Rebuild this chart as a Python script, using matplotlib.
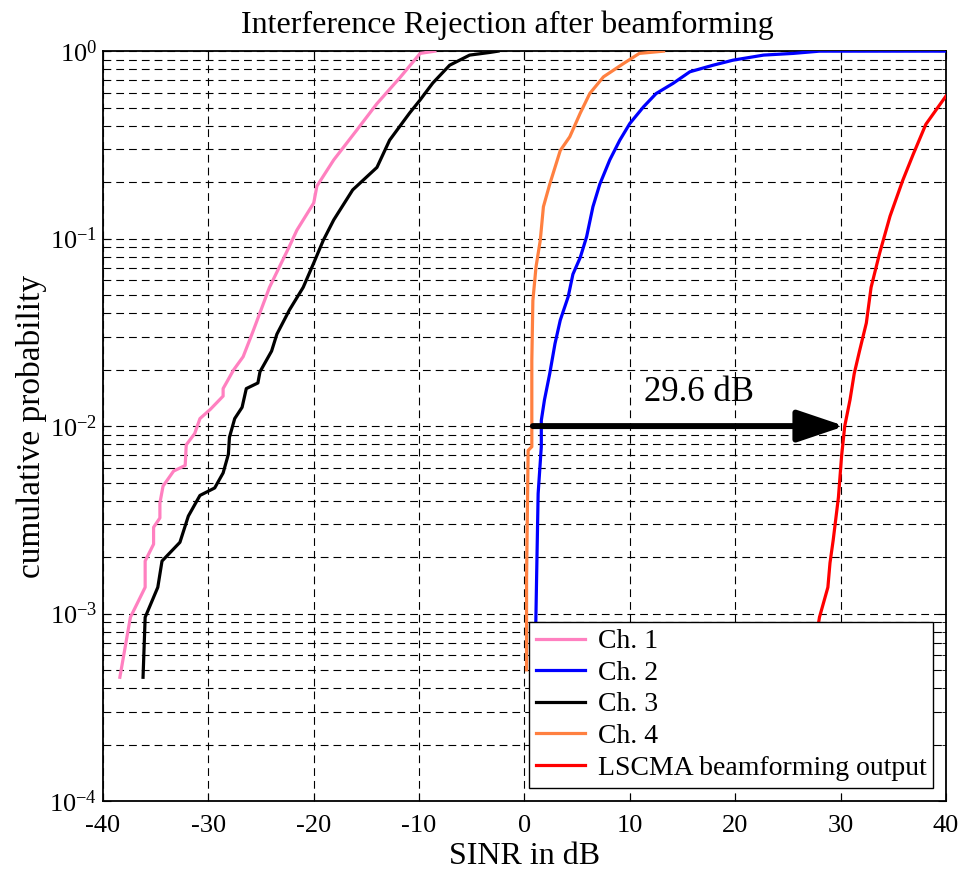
import numpy as np
import matplotlib
matplotlib.use("Agg")
import matplotlib.pyplot as plt

plt.rcParams["font.family"] = ["Liberation Serif", "DejaVu Serif"]
plt.rcParams["mathtext.fontset"] = "custom"
plt.rcParams["mathtext.rm"] = "Liberation Serif"
plt.rcParams["mathtext.it"] = "Liberation Serif:italic"
plt.rcParams["axes.unicode_minus"] = False

# empirical SINR CDFs: x in dB, log10 of cumulative probability
ch1_x = [-38.4, -37.4, -36.0, -36.0, -35.2, -35.2, -34.6, -34.6, -34.3, -33.3, -32.2, -32.1,
         -31.3, -30.8, -29.8, -28.6, -28.6, -27.6, -26.7, -25.8, -24.2, -22.3, -21.6, -20.0,
         -19.7, -18.1, -15.9, -14.0, -11.8, -9.9, -8.5]
ch1_logp = [-3.34, -3.02, -2.86, -2.72, -2.63, -2.54, -2.49, -2.41, -2.32, -2.24, -2.21, -2.10,
            -2.04, -1.96, -1.91, -1.84, -1.80, -1.70, -1.63, -1.50, -1.26, -1.04, -0.955, -0.81,
            -0.72, -0.58, -0.42, -0.28, -0.14, -0.012, 0.0]

ch2_x = [1.0, 1.15, 1.3, 1.6, 1.6, 1.9, 2.4, 2.9, 3.4, 4.15, 4.6, 5.3, 5.9, 6.5, 7.15, 8.1,
         9.05, 10.0, 11.3, 12.5, 14.1, 15.7, 17.9, 19.8, 22.7, 25.5, 28.0, 40.0]
ch2_logp = [-3.3, -2.82, -2.36, -2.11, -1.97, -1.86, -1.72, -1.56, -1.435, -1.31, -1.19, -1.10,
            -0.99, -0.83, -0.71, -0.58, -0.475, -0.386, -0.297, -0.226, -0.172, -0.110, -0.075,
            -0.048, -0.021, -0.012, 0.0, 0.0]

ch3_x = [-36.2, -36.0, -34.8, -34.4, -32.7, -31.9, -30.8, -29.4, -28.6, -28.1, -28.0, -27.5,
         -26.8, -26.4, -25.3, -25.1, -24.0, -23.5, -22.3, -21.0, -20.0, -19.1, -18.1, -16.3,
         -14.0, -12.8, -10.9, -9.9, -8.7, -7.1, -5.2, -3.3, -2.5]
ch3_logp = [-3.34, -3.02, -2.86, -2.72, -2.62, -2.48, -2.37, -2.33, -2.25, -2.15, -2.06, -1.96,
            -1.90, -1.80, -1.77, -1.71, -1.60, -1.51, -1.38, -1.26, -1.13, -1.01, -0.90, -0.74,
            -0.62, -0.475, -0.33, -0.26, -0.17, -0.075, -0.021, -0.007, 0.0]

ch4_x = [0.2, 0.2, 0.35, 0.7, 0.7, 0.8, 1.1, 1.5, 1.8, 2.4, 3.4, 4.3, 5.3, 6.2, 7.5, 9.4,
         10.9, 13.2]
ch4_logp = [-3.3, -2.82, -2.13, -2.11, -1.65, -1.33, -1.15, -1.01, -0.83, -0.71, -0.53, -0.457,
            -0.33, -0.226, -0.137, -0.066, -0.012, 0.0]

lscma_x = [27.2, 28.0, 28.8, 29.0, 29.3, 29.8, 30.1, 30.4, 30.9, 31.3, 31.8, 32.45, 32.9, 33.7,
           34.7, 35.9, 36.9, 38.1, 40.0]
lscma_logp = [-3.3, -3.02, -2.86, -2.73, -2.61, -2.38, -2.16, -2.0, -1.86, -1.72, -1.60, -1.45,
              -1.26, -1.08, -0.88, -0.69, -0.55, -0.39, -0.24]

labels = ["Ch. 1", "Ch. 2", "Ch. 3", "Ch. 4", "LSCMA beamforming output"]
colors = ["#ff80c0", "#0000ff", "#000000", "#ff8040", "#ff0000"]

gain_db = 29.6
arrow_end = 30.4
arrow_p = 1e-2

fig = plt.figure(figsize=(9.6, 8.76), dpi=100)
ax = fig.add_axes([0.1073, 0.0856, 0.878, 0.856])

series = [(ch1_x, ch1_logp), (ch2_x, ch2_logp), (ch3_x, ch3_logp),
          (ch4_x, ch4_logp), (lscma_x, lscma_logp)]
for (x, lp), lab, c in zip(series, labels, colors):
    ax.semilogy(x, 10.0 ** np.asarray(lp), color=c, lw=2.3, label=lab, zorder=3)

ax.set_xlim(-40, 40)
ax.set_ylim(1e-4, 1)
ax.set_xticks(np.arange(-40, 41, 10))
dash = (0, (7, 4.5))
ax.grid(True, which="major", color="black", ls=dash, lw=0.8)
ax.grid(True, which="minor", axis="y", color="black", ls=dash, lw=0.8)
ax.tick_params(which="both", direction="in", top=True, right=True, labelsize=19)
ax.tick_params(axis="x", pad=10)
ax.tick_params(axis="y", pad=4)
ax.tick_params(which="major", length=6)
ax.tick_params(which="minor", length=3)
for sp in ax.spines.values():
    sp.set_linewidth(1.3)

# gain arrow at p = 1e-2, from Ch. 2 to the beamformer output
ax.annotate("", xy=(arrow_end, arrow_p), xytext=(arrow_end - gain_db, arrow_p),
            arrowprops=dict(arrowstyle="-|>,head_length=0.8,head_width=0.27",
                            mutation_scale=36, lw=4.3, color="black",
                            shrinkA=0, shrinkB=0), zorder=4)
ax.text(16.6, 10 ** -1.82, f"{gain_db} dB", fontsize=25, ha="center", va="center")

ax.set_title("Interference Rejection after beamforming", fontsize=23, pad=13, x=0.48)
ax.set_xlabel("SINR in dB", fontsize=23, labelpad=4)
ax.set_ylabel("cumulative probability", fontsize=24, labelpad=2)

leg = ax.legend(loc="lower right", bbox_to_anchor=(0.985, 0.018), fontsize=20,
                fancybox=False, framealpha=1, edgecolor="black", handlelength=1.75,
                handletextpad=0.45, borderpad=0.25, labelspacing=0.22, borderaxespad=0)
leg.get_frame().set_linewidth(1.0)
leg.set_zorder(5)

fig.savefig("out.png", dpi=100)
